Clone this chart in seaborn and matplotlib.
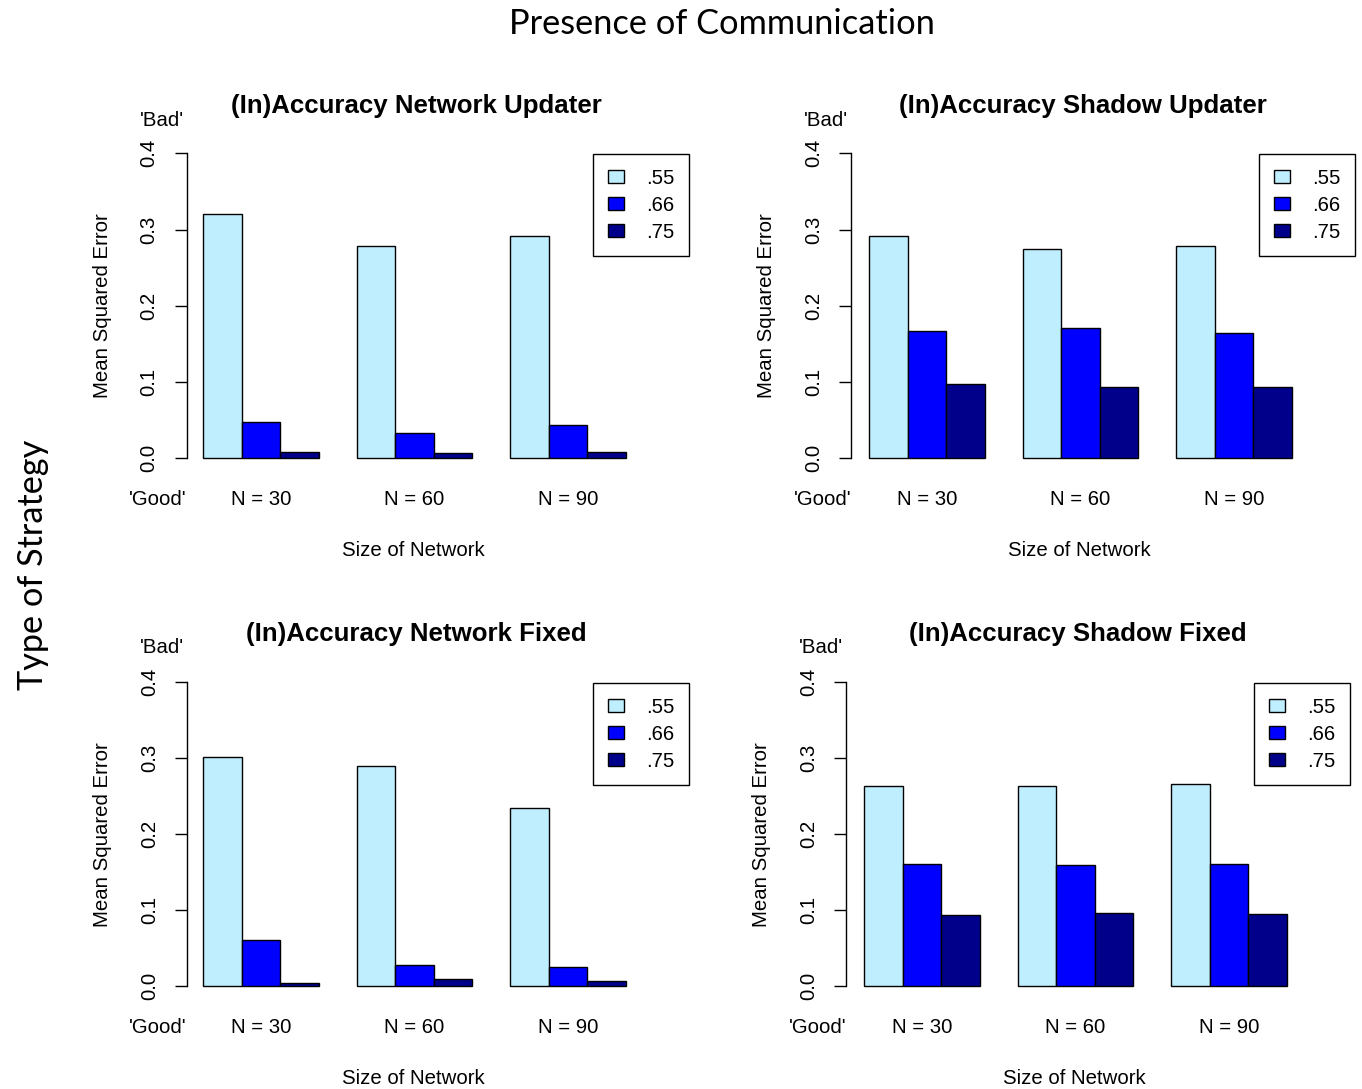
import matplotlib
matplotlib.use("Agg")
import matplotlib.pyplot as plt
import seaborn as sns
import pandas as pd

# ---- data -------------------------------------------------------------
sizes = ["N = 30", "N = 60", "N = 90"]
accuracy = [".55", ".66", ".75"]
colors = ["#BFEFFF", "#0000FF", "#00008B"]

net_upd_55 = [0.320, 0.279, 0.291]
net_upd_66 = [0.047, 0.033, 0.044]
net_upd_75 = [0.008, 0.007, 0.008]

shadow_upd_55 = [0.292, 0.275, 0.279]
shadow_upd_66 = [0.167, 0.171, 0.164]
shadow_upd_75 = [0.097, 0.093, 0.093]

net_fix_55 = [0.302, 0.290, 0.234]
net_fix_66 = [0.061, 0.028, 0.025]
net_fix_75 = [0.004, 0.009, 0.006]

shadow_fix_55 = [0.264, 0.263, 0.266]
shadow_fix_66 = [0.161, 0.160, 0.161]
shadow_fix_75 = [0.093, 0.096, 0.095]

titles = ["(In)Accuracy Network Updater", "(In)Accuracy Shadow Updater",
          "(In)Accuracy Network Fixed", "(In)Accuracy Shadow Fixed"]
y_ticks = [0.0, 0.1, 0.2, 0.3, 0.4]
y_tick_labels = ["0.0", "0.1", "0.2", "0.3", "0.4"]


def long_table(s55, s66, s75):
    rows = []
    for acc, vals in zip(accuracy, [s55, s66, s75]):
        for n, v in zip(sizes, vals):
            rows.append({"size": n, "acc": acc, "mse": v})
    return pd.DataFrame(rows)


panels_data = [
    long_table(net_upd_55, net_upd_66, net_upd_75),
    long_table(shadow_upd_55, shadow_upd_66, shadow_upd_75),
    long_table(net_fix_55, net_fix_66, net_fix_75),
    long_table(shadow_fix_55, shadow_fix_66, shadow_fix_75),
]

# ---- style ------------------------------------------------------------
sns.set_style("white")
plt.rcParams["font.family"] = ["Liberation Sans", "DejaVu Sans"]
plt.rcParams["axes.linewidth"] = 1.0
for key in ["text.color", "axes.labelcolor", "xtick.color", "ytick.color",
            "axes.edgecolor", "xtick.labelcolor", "ytick.labelcolor"]:
    plt.rcParams[key] = "black"

W, H = 1362, 1089
fig = plt.figure(figsize=(W / 100, H / 100), dpi=100)


def fx(x):
    return x / W


def fy(y):
    return 1 - y / H


FS = 14.7
SPACING = 153.5        # pixels between group centres
YPAD = 0.016           # headroom below 0 / above 0.4 in data units

# panel geometry in pixels: spine x, first group centre, y of 0.0, y of 0.4
geom = [
    dict(spine=186.5, cat0=261.0, y0=458.3, y4=153.3),
    dict(spine=851.0, cat0=927.0, y0=458.3, y4=153.3),
    dict(spine=186.7, cat0=261.0, y0=986.0, y4=682.3),
    dict(spine=846.0, cat0=922.0, y0=986.0, y4=682.3),
]

for data, title, g in zip(panels_data, titles, geom):
    spine, cat0, y0, y4 = g["spine"], g["cat0"], g["y0"], g["y4"]
    cat1 = cat0 + SPACING
    cat2 = cat0 + 2 * SPACING
    right = cat2 + 80
    pxu = (y0 - y4) / 0.4
    top_px = y4 - YPAD * pxu
    bot_px = y0 + YPAD * pxu

    ax = fig.add_axes([fx(spine), fy(bot_px), (right - spine) / W, (bot_px - top_px) / H])
    sns.barplot(data=data, x="size", y="mse", hue="acc", order=sizes,
                hue_order=accuracy, palette=colors, saturation=1, width=0.75,
                edgecolor="black", linewidth=1.0, errorbar=None, ax=ax)

    ax.set_xlim(-(cat0 - spine) / SPACING, (right - cat0) / SPACING)
    ax.set_ylim(-YPAD, 0.4 + YPAD)

    for side in ["top", "right", "bottom"]:
        ax.spines[side].set_visible(False)
    ax.spines["left"].set_bounds(0, 0.4)
    ax.spines["left"].set_color("black")

    ax.set_yticks(y_ticks, labels=y_tick_labels)
    plt.setp(ax.get_yticklabels(), rotation=90, va="center")
    ax.tick_params(axis="y", direction="out", length=9, width=1.0,
                   color="black", pad=11, labelsize=FS, left=True)
    ax.tick_params(axis="x", length=0, pad=14, labelsize=FS)

    ax.set_xlabel("Size of Network", fontsize=FS, va="baseline")
    ax.xaxis.set_label_coords(fx(cat1 - 1), fy(y0 + 98.2), transform=fig.transFigure)
    ax.set_ylabel("Mean Squared Error", fontsize=FS, va="baseline")
    ax.yaxis.set_label_coords(fx(spine - 79), fy((y0 + y4) / 2), transform=fig.transFigure)

    fig.text(fx(cat1 + 2), fy(y0 - 345.3), title, fontsize=18.6, fontweight="bold",
             ha="center", va="baseline")
    fig.text(fx(spine - 24.8), fy(y0 - 332.7), "'Bad'", fontsize=FS,
             ha="center", va="baseline")
    fig.text(fx(spine - 28.7), fy(y0 + 47), "'Good'", fontsize=FS,
             ha="center", va="baseline")

    old = ax.get_legend()
    handles = old.legend_handles
    labels = [t.get_text() for t in old.get_texts()]
    leg = ax.legend(handles, labels, loc="upper right",
                    bbox_to_anchor=(fx(cat2 + 121), fy(y4 + 1)),
                    bbox_transform=fig.transFigure, borderaxespad=0,
                    frameon=True, fancybox=False, framealpha=1,
                    edgecolor="black", fontsize=FS, handlelength=0.8,
                    handleheight=0.6, handletextpad=1.1, borderpad=0.7,
                    labelspacing=0.4)
    leg.get_frame().set_linewidth(1.0)
    for h in leg.legend_handles:
        h.set_edgecolor("black")
        h.set_linewidth(1.0)

# ---- figure-level headings --------------------------------------------
renderer = fig.canvas.get_renderer()

main = fig.text(fx(722), fy(34.5), "Presence of Communication", family=["Lato", "DejaVu Sans"],
                fontsize=26, ha="center", va="baseline")
side = fig.text(fx(43.3), fy(565), "Type of Strategy", family=["Lato", "DejaVu Sans"],
                fontsize=26, ha="center", va="baseline", rotation=90,
                rotation_mode="anchor")

w = main.get_window_extent(renderer).width
main.set_fontsize(26 * 425 / w)
h = side.get_window_extent(renderer).height
side.set_fontsize(26 * 250 / h)

fig.savefig("out.png", dpi=100)
